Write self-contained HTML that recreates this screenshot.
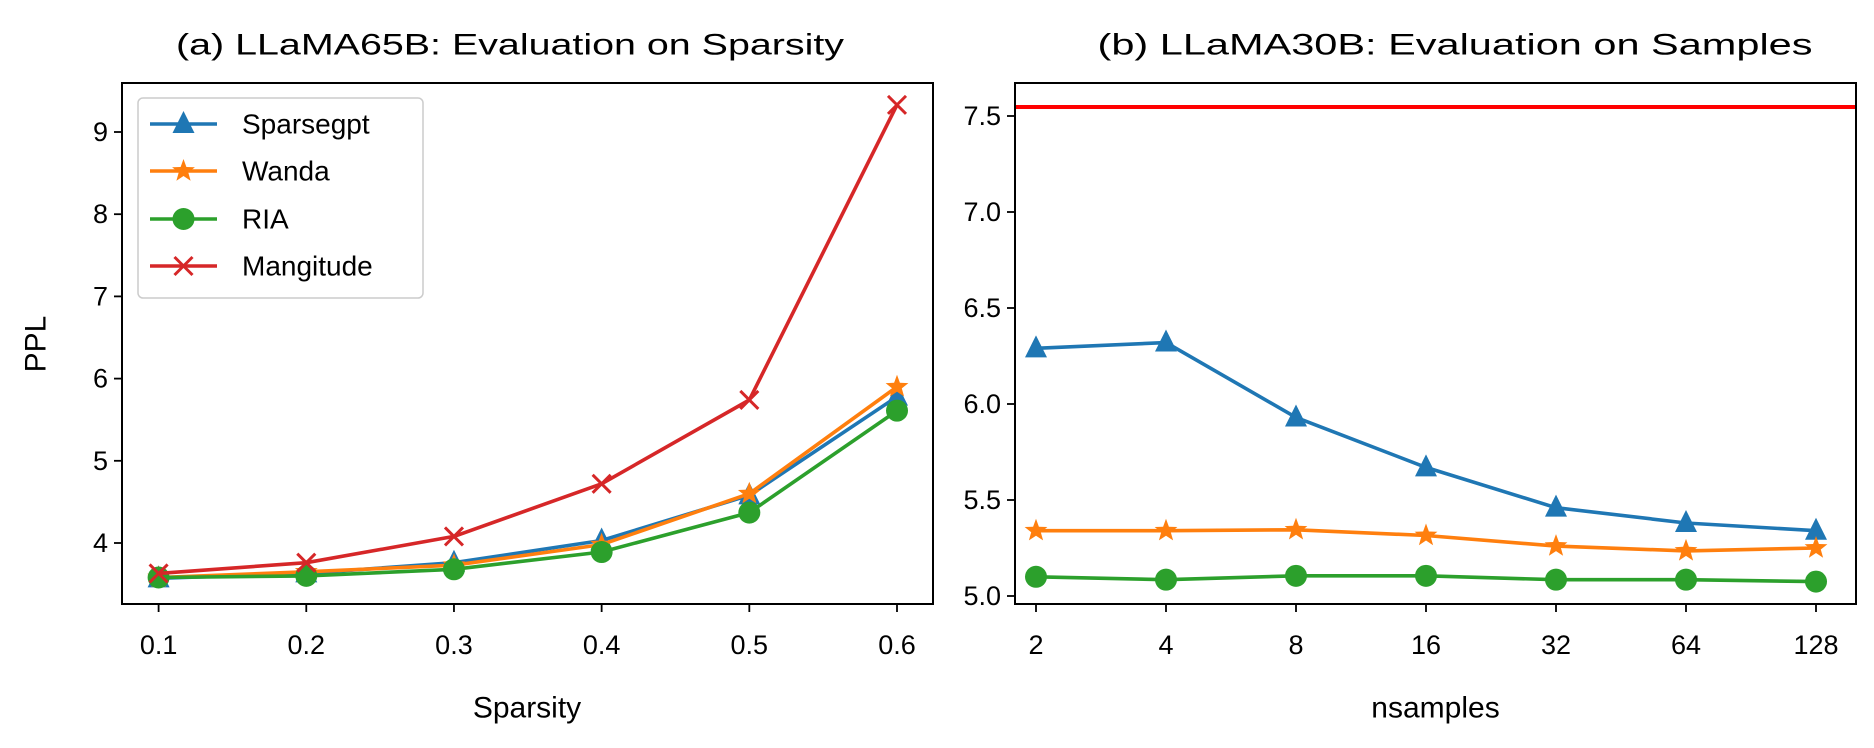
<!DOCTYPE html>
<html><head><meta charset="utf-8">
<style>
html,body{margin:0;padding:0;background:#fff;}
svg{display:block;font-family:"Liberation Sans","DejaVu Sans",sans-serif;}
</style></head>
<body>
<svg id="chart" width="1874" height="748" viewBox="0 0 1874 748" xmlns="http://www.w3.org/2000/svg">
</svg>
<script>
// ---- Data: panel (a) ----
const sparsityCats = [0.1, 0.2, 0.3, 0.4, 0.5, 0.6];
const aSparsegpt = [3.57, 3.63, 3.76, 4.03, 4.58, 5.78];
const aWanda = [3.58, 3.65, 3.73, 3.98, 4.60, 5.90];
const aRIA = [3.58, 3.60, 3.68, 3.89, 4.37, 5.61];
const aMagnitude = [3.63, 3.76, 4.08, 4.72, 5.74, 9.33];
const aYTicks = [4, 5, 6, 7, 8, 9];
const aXTickLabels = ["0.1", "0.2", "0.3", "0.4", "0.5", "0.6"];
// ---- Data: panel (b) ----
const nsampleCats = ["2", "4", "8", "16", "32", "64", "128"];
const bSparsegpt = [6.29, 6.32, 5.93, 5.67, 5.46, 5.38, 5.34];
const bWanda = [5.34, 5.34, 5.345, 5.315, 5.26, 5.235, 5.25];
const bRIA = [5.10, 5.085, 5.105, 5.105, 5.085, 5.085, 5.075];
const bDenseLine = 7.547;
const bYTicks = [5.0, 5.5, 6.0, 6.5, 7.0, 7.5];
const bYTickLabels = ["5.0", "5.5", "6.0", "6.5", "7.0", "7.5"];

const NS = "http://www.w3.org/2000/svg";
const svg = document.getElementById("chart");
const C = {blue:"#1f77b4", orange:"#ff7f0e", green:"#2ca02c", red:"#d62728"};
function mk(tag, attrs, parent){
  const e = document.createElementNS(NS, tag);
  for (const k in attrs) e.setAttribute(k, attrs[k]);
  (parent||svg).appendChild(e);
  return e;
}
function txt(x,y,s,size,anchor,parent,extra){
  const t = mk("text",Object.assign({x:x,y:y,"font-size":size,"text-anchor":anchor||"middle","dominant-baseline":"central",fill:"#000"},extra||{}),parent);
  t.textContent = s;
  return t;
}
function marker(type,x,y,color,g){
  let m;
  if(type==="tri"){
    m = mk("polygon",{points:`${x},${y-13} ${x-11},${y+9} ${x+11},${y+9}`,fill:color},g);
  } else if(type==="star"){
    let pts=[];
    for(let i=0;i<10;i++){const r=i%2?5:12;const a=-Math.PI/2+i*Math.PI/5;pts.push((x+r*Math.cos(a)).toFixed(1)+","+(y+r*Math.sin(a)).toFixed(1));}
    m = mk("polygon",{points:pts.join(" "),fill:color},g);
  } else if(type==="circ"){
    m = mk("circle",{cx:x,cy:y,r:11,fill:color},g);
  } else {
    m = mk("path",{d:`M${x-9},${y-9}L${x+9},${y+9}M${x-9},${y+9}L${x+9},${y-9}`,stroke:color,"stroke-width":3,fill:"none"},g);
  }
  return m;
}
function series(name,xs,ys,xf,yf,color,type){
  const g = mk("g",{});
  
  
  const pts = ys.map((v,i)=>xf(xs[i]).toFixed(1)+","+yf(v).toFixed(1)).join(" ");
  const pl = mk("polyline",{points:pts,fill:"none",stroke:color,"stroke-width":3.6,"stroke-linejoin":"round"},g);
  
  
  ys.forEach((v,i)=>{
    const m = marker(type,xf(xs[i]),yf(v),color,g);
    
    
  });
}

// ---- Panel (a) ----
const aL=122,aR=933,aT=83,aB=604;
const ax = v => 158.6 + (v-0.1)*(897-158.6)/0.5;
const ay = v => 543 - (v-4)*82.2;
const ga = mk("g",{});


const ta = txt(510,45,"(a) LLaMA65B: Evaluation on Sparsity",30,"middle",ga,{textLength:668,lengthAdjust:"spacingAndGlyphs"});


aYTicks.forEach(v=>{
  mk("line",{x1:aL-8,x2:aL,y1:ay(v),y2:ay(v),stroke:"#000","stroke-width":1.8},ga);
  const t=txt(aL-14,ay(v),String(v),27,"end",ga);
  
  
});
sparsityCats.forEach((v,i)=>{
  mk("line",{x1:ax(v),x2:ax(v),y1:aB,y2:aB+8,stroke:"#000","stroke-width":1.8},ga);
  const t=txt(ax(v),645,aXTickLabels[i],27,"middle",ga);
  
  
});
const yl=txt(36,344,"PPL",30,"middle",ga,{transform:"rotate(-90 36 344)"});


const xla=txt(527,708,"Sparsity",30,"middle",ga);


series("sparsegpt-a",sparsityCats,aSparsegpt,ax,ay,C.blue,"tri");
series("wanda-a",sparsityCats,aWanda,ax,ay,C.orange,"star");
series("ria-a",sparsityCats,aRIA,ax,ay,C.green,"circ");
series("magnitude-a",sparsityCats,aMagnitude,ax,ay,C.red,"x");
mk("rect",{x:aL,y:aT,width:aR-aL,height:aB-aT,fill:"none",stroke:"#000","stroke-width":2},ga);

// legend
const lg = mk("g",{});


mk("rect",{x:138,y:98,width:285,height:200,rx:5,fill:"#fff","fill-opacity":0.8,stroke:"#ccc","stroke-width":1.5},lg);
const legNames=["Sparsegpt","Wanda","RIA","Mangitude"];
const legColors=[C.blue,C.orange,C.green,C.red];
const legTypes=["tri","star","circ","x"];
const legY=[124,171,219,266];
legNames.forEach((n,i)=>{
  const e=mk("g",{},lg);
  
  
  mk("line",{x1:150,x2:217,y1:legY[i],y2:legY[i],stroke:legColors[i],"stroke-width":3.6},e);
  marker(legTypes[i],183.5,legY[i],legColors[i],e);
  txt(242,legY[i],n,28,"start",e);
});

// ---- Panel (b) ----
const bL=1015,bR=1856,bT=83,bB=604;
const bx = i => 1036 + i*130;
const by = v => 596 - (v-5)*192;
const idx = nsampleCats.map((c,i)=>i);
const gb = mk("g",{});


const tb = txt(1455,45,"(b) LLaMA30B: Evaluation on Samples",30,"middle",gb,{textLength:715,lengthAdjust:"spacingAndGlyphs"});


bYTicks.forEach((v,i)=>{
  mk("line",{x1:bL-8,x2:bL,y1:by(v),y2:by(v),stroke:"#000","stroke-width":1.8},gb);
  const t=txt(bL-14,by(v),bYTickLabels[i],27,"end",gb);
  
  
});
nsampleCats.forEach((c,i)=>{
  mk("line",{x1:bx(i),x2:bx(i),y1:bB,y2:bB+8,stroke:"#000","stroke-width":1.8},gb);
  const t=txt(bx(i),645,c,27,"middle",gb);
  
  
});
const xlb=txt((bL+bR)/2,708,"nsamples",30,"middle",gb);


const dl=mk("line",{x1:bL,x2:bR,y1:by(bDenseLine),y2:by(bDenseLine),stroke:"#ff0000","stroke-width":4},gb);


series("sparsegpt-b",idx,bSparsegpt,bx,by,C.blue,"tri");
series("wanda-b",idx,bWanda,bx,by,C.orange,"star");
series("ria-b",idx,bRIA,bx,by,C.green,"circ");
mk("rect",{x:bL,y:bT,width:bR-bL,height:bB-bT,fill:"none",stroke:"#000","stroke-width":2},gb);
</script>
</body></html>
